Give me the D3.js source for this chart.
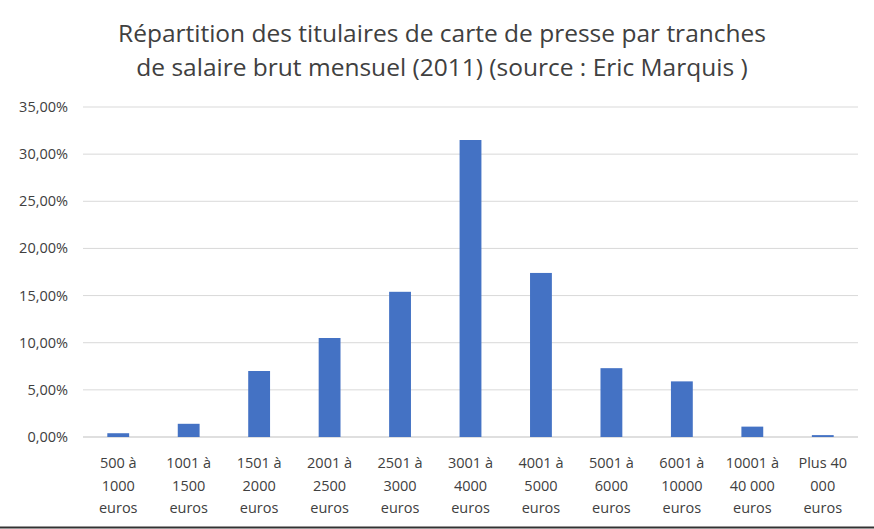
<!DOCTYPE html>
<html><head><meta charset="utf-8">
<script src="https://cdn.jsdelivr.net/npm/d3@7"></script>
<style>body{margin:0;background:#fff}svg{display:block}</style>
</head><body><svg id="c" width="874" height="529"></svg>
<script>
const categories=[["500 à","1000","euros"],["1001 à","1500","euros"],["1501 à","2000","euros"],["2001 à","2500","euros"],["2501 à","3000","euros"],["3001 à","4000","euros"],["4001 à","5000","euros"],["5001 à","6000","euros"],["6001 à","10000","euros"],["10001 à","40 000","euros"],["Plus 40","000","euros"]];
const values=[0.4,1.4,7.0,10.5,15.4,31.5,17.4,7.3,5.9,1.1,0.2];
const yTicks=[0,5,10,15,20,25,30,35];
const titleLines=["Répartition des titulaires de carte de presse par tranches","de salaire brut mensuel (2011) (source : Eric Marquis )"];
const svg=d3.select("#c");
const font="'Open Sans', Calibri, sans-serif";
const x=d3.scaleBand().domain(d3.range(categories.length)).range([83,858]).paddingInner(0.69).paddingOuter(0.345);
const y=d3.scaleLinear().domain([0,35]).range([437,107]);
svg.append("g").selectAll("line").data(yTicks).join("line")
 .attr("x1",83).attr("x2",858).attr("y1",d=>y(d)).attr("y2",d=>y(d))
 .attr("stroke",d=>d===0?"#bfbfbf":"#d9d9d9").attr("stroke-width",1);
svg.append("g").selectAll("text").data(yTicks).join("text")
 .attr("x",68).attr("y",d=>y(d)+5).attr("text-anchor","end")
 .attr("font-family",font).attr("font-size",14.5).attr("fill","#404040")
 .text(d=>d.toFixed(2).replace(".",",")+"%");
svg.append("g").selectAll("rect").data(values).join("rect")
 .attr("x",(d,i)=>x(i)).attr("width",x.bandwidth())
 .attr("y",d=>y(d)).attr("height",d=>y(0)-y(d)).attr("fill","#4472c4");
const lab=svg.append("g").selectAll("text").data(categories).join("text")
 .attr("text-anchor","middle").attr("font-family",font).attr("font-size",14.5).attr("fill","#404040");
lab.selectAll("tspan").data((d,i)=>d.map(t=>({t,i}))).join("tspan")
 .attr("x",d=>x(d.i)+x.bandwidth()/2).attr("y",(d,j)=>468+j*22.5).text(d=>d.t);
svg.append("g").selectAll("text").data(titleLines).join("text")
 .attr("x",442).attr("y",(d,i)=>42+i*34).attr("text-anchor","middle")
 .attr("font-family",font).attr("font-size",24.5).attr("fill","#404040").text(d=>d);
svg.append("line").attr("x1",0).attr("x2",874).attr("y1",527.5).attr("y2",527.5).attr("stroke","#333").attr("stroke-width",2);
</script></body></html>
